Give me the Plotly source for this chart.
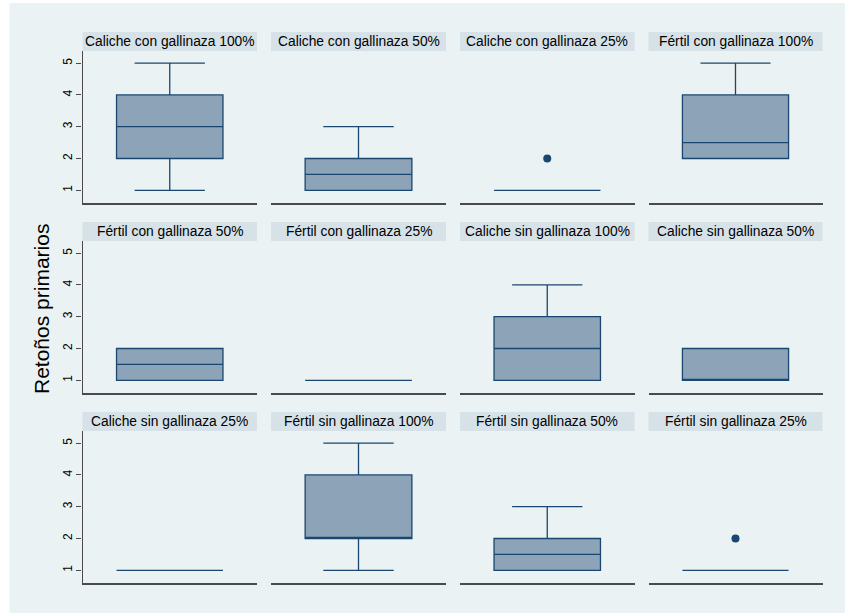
import plotly.graph_objects as go

W, H = 845, 614

# ---- data ----
groups = [
    "Caliche con gallinaza 100%", "Caliche con gallinaza 50%", "Caliche con gallinaza 25%", "Fértil con gallinaza 100%",
    "Fértil con gallinaza 50%", "Fértil con gallinaza 25%", "Caliche sin gallinaza 100%", "Caliche sin gallinaza 50%",
    "Caliche sin gallinaza 25%", "Fértil sin gallinaza 100%", "Fértil sin gallinaza 50%", "Fértil sin gallinaza 25%",
]
q1 =         [2, 1,   1, 2,   1,   1, 1, 1, 1, 2, 1,   1]
median =     [3, 1.5, 1, 2.5, 1.5, 1, 2, 1, 1, 2, 1.5, 1]
q3 =         [4, 2,   1, 4,   2,   1, 3, 2, 1, 4, 2,   1]
lower_whisk = [1, 1,  1, 2,   1,   1, 1, 1, 1, 1, 1,   1]
upper_whisk = [5, 3,  1, 5,   2,   1, 4, 2, 1, 5, 3,   1]
outliers =   [[], [], [2], [], [], [], [], [], [], [], [], [2]]
y_ticks = [1, 2, 3, 4, 5]
y_title = "Retoños primarios"

# ---- styling ----
NAVY = "#1A476F"
BOXFILL = "#8CA3B8"
OUTER = "#EAF2F3"
STRIP = "#D6E2E7"
GRID = "#EAF2F3"
AXIS = "#4a4a4a"
FONT = "Liberation Sans, Arial, Helvetica, sans-serif"

cols_px = [(82.5, 257), (271, 446), (460, 634.5), (648.5, 822.5)]
rows_px = [(51, 203), (241, 393), (431, 583)]
strip_h = 19

fig = go.Figure()
shapes = []
annotations = []

# outer background region
shapes.append(dict(type="rect", xref="paper", yref="paper", layer="below",
                   x0=9.5 / W, x1=1, y0=1 - 613 / H, y1=1 - 3 / H,
                   fillcolor=OUTER, line=dict(width=0)))

for i, name in enumerate(groups):
    r, c = divmod(i, 4)
    k = i + 1
    xa = "xaxis" if k == 1 else f"xaxis{k}"
    ya = "yaxis" if k == 1 else f"yaxis{k}"
    xr = "x" if k == 1 else f"x{k}"
    yr = "y" if k == 1 else f"y{k}"
    x0p, x1p = cols_px[c]
    y0p, y1p = rows_px[r]

    fig.add_trace(go.Box(
        x=[0], q1=[q1[i]], median=[median[i]], q3=[q3[i]],
        lowerfence=[lower_whisk[i]], upperfence=[upper_whisk[i]],
        width=1.22, whiskerwidth=0.66, boxpoints=False,
        fillcolor=BOXFILL, line=dict(color=NAVY, width=1.3),
        xaxis=xr, yaxis=yr, showlegend=False, name=name))
    if outliers[i]:
        fig.add_trace(go.Scatter(
            x=[0] * len(outliers[i]), y=outliers[i], mode="markers",
            marker=dict(color=NAVY, size=8), xaxis=xr, yaxis=yr, showlegend=False))

    fig.layout[xa] = dict(domain=[x0p / W, x1p / W], range=[-1, 1], anchor=yr,
                          showticklabels=False, ticks="", showgrid=False, zeroline=False,
                          showline=True, linecolor=AXIS, linewidth=1.5, fixedrange=True)
    left = (c == 0)
    fig.layout[ya] = dict(domain=[1 - y1p / H, 1 - y0p / H], range=[0.6, 5.38], anchor=xr,
                          tickvals=y_ticks, showticklabels=left,
                          ticks="outside" if left else "", ticklen=5, tickwidth=1, tickcolor=AXIS,
                          tickangle=-90, tickfont=dict(size=12, color="#000", family=FONT),
                          showgrid=True, gridcolor=GRID, gridwidth=1.5, zeroline=False,
                          showline=left, linecolor=AXIS, linewidth=1.2, fixedrange=True)

    # strip
    shapes.append(dict(type="rect", xref="paper", yref="paper", layer="below",
                       x0=x0p / W, x1=x1p / W, y0=1 - y0p / H, y1=1 - (y0p - strip_h) / H,
                       fillcolor=STRIP, line=dict(width=0)))
    annotations.append(dict(text=name, xref="paper", yref="paper",
                            x=(x0p + x1p) / 2 / W, y=1 - (y0p - strip_h / 2) / H,
                            xanchor="center", yanchor="middle", showarrow=False,
                            font=dict(size=13.8, color="#000", family=FONT)))

annotations.append(dict(text=y_title, xref="paper", yref="paper", x=41 / W, y=1 - 309 / H,
                        xanchor="center", yanchor="middle", textangle=-90, showarrow=False,
                        font=dict(size=21, color="#000", family=FONT)))

fig.update_layout(width=W, height=H, margin=dict(l=0, r=0, t=0, b=0),
                  paper_bgcolor="white", plot_bgcolor="white",
                  shapes=shapes, annotations=annotations,
                  font=dict(family=FONT), showlegend=False)

fig.write_html("out.html", config={"displayModeBar": False})
